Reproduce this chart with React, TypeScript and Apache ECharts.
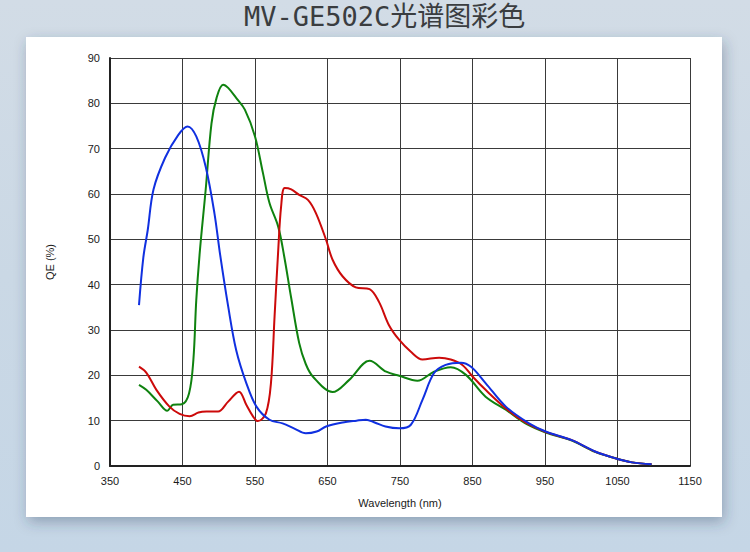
import React, { useEffect, useRef } from "react";
import * as echarts from "echarts";

const titleText = "MV-GE502C光谱图彩色";
const xAxisName = "Wavelength (nm)";
const yAxisName = "QE (%)";

const blueNm = [390, 396, 402, 410, 426, 444, 457, 469, 482, 494, 502, 513, 524, 538, 552, 570, 588, 605, 620, 635, 648, 671, 690, 703, 715, 730, 749, 765, 781, 797, 813, 834, 848, 868, 896, 928, 951, 987, 1019, 1047, 1070, 1097];
const blueQE = [35.5, 46, 52, 61, 68, 73, 74.9, 72.7, 66, 55.8, 46.5, 35.2, 25.6, 18.3, 13.1, 10.2, 9.4, 8.2, 7.2, 7.6, 8.7, 9.6, 10, 10.2, 9.6, 8.7, 8.3, 9.1, 14.6, 20.5, 22.3, 22.8, 21.9, 18.3, 13.1, 9.4, 7.6, 5.7, 3.2, 1.7, 0.8, 0.4];

const greenNm = [390, 400, 416, 429, 437, 449, 459, 465, 469, 474, 482, 490, 497, 506, 513, 524, 536, 550, 561, 570, 582, 590, 600, 611, 620, 630, 657, 680, 708, 731, 749, 774, 797, 820, 841, 868, 896, 923, 951, 987, 1019, 1047, 1070, 1097];
const greenQE = [17.9, 16.8, 14.2, 12.2, 13.5, 13.6, 16, 23.4, 36.6, 47.5, 61, 75.6, 81.2, 84.1, 83.4, 81.2, 78.6, 72.7, 64.6, 58, 52.8, 46.5, 37, 27.1, 22.5, 19.7, 16.3, 19, 23.2, 20.8, 19.9, 18.8, 20.8, 21.8, 20.1, 15.3, 12.4, 9.4, 7.4, 5.6, 3.1, 1.7, 0.8, 0.4];

const redNm = [390, 400, 414, 432, 446, 460, 472, 483, 499, 513, 528, 538, 547, 554, 565, 572, 577, 582, 586, 591, 600, 611, 623, 634, 648, 657, 671, 689, 708, 721, 735, 749, 765, 781, 804, 820, 836, 852, 868, 896, 923, 951, 987, 1019, 1047, 1070, 1097];
const redQE = [21.9, 20.6, 16.8, 13.1, 11.5, 11, 11.8, 12, 12, 14.2, 16.4, 13.5, 11, 9.9, 11.6, 18.3, 33, 47.5, 57.2, 61.3, 61, 59.8, 58.7, 55.8, 49.9, 45.5, 41.8, 39.4, 39, 36.2, 31, 27.8, 25.2, 23.5, 23.9, 23.5, 22.3, 19.4, 16.8, 12.7, 9.6, 7.5, 5.7, 3.2, 1.7, 0.8, 0.4];

const pairs = (xs: number[], ys: number[]) => xs.map((x, i) => [x, ys[i]]);

export default function App() {
  const ref = useRef<HTMLDivElement>(null);
  useEffect(() => {
    if (!ref.current) return;
    const chart = echarts.init(ref.current, null, { renderer: "svg" });
    const axisFont = { fontFamily: "Liberation Sans", fontSize: 11, color: "#1a1a1a" };
    const lineSeries = (xs: number[], ys: number[], color: string) => ({
      type: "line",
      data: pairs(xs, ys),
      smooth: 0.35,
      showSymbol: false,
      lineStyle: { color, width: 2 },
    });
    chart.setOption({
      animation: false,
      backgroundColor: new echarts.graphic.LinearGradient(0, 0, 0, 1, [
        { offset: 0, color: "#d2dce6" },
        { offset: 0.5, color: "#cad8e5" },
        { offset: 1, color: "#c5d6e6" },
      ]),
      title: {
        text: titleText,
        left: 244,
        top: 3,
        padding: 0,
        textStyle: {
          fontFamily: "DejaVu Sans Mono, Noto Sans CJK SC",
          fontSize: 27,
          lineHeight: 27,
          fontWeight: "normal",
          color: "#3a3d40",
        },
      },
      graphic: [
        {
          type: "rect",
          z: -10,
          shape: { x: 26, y: 37, width: 696, height: 480 },
          style: {
            fill: "#ffffff",
            shadowBlur: 14,
            shadowColor: "rgba(40,60,90,0.35)",
            shadowOffsetX: 2,
            shadowOffsetY: 5,
          },
        },
      ],
      grid: { left: 110, right: 60, top: 58, bottom: 86 },
      xAxis: {
        type: "value",
        min: 350,
        max: 1150,
        interval: 100,
        name: xAxisName,
        nameLocation: "middle",
        nameGap: 31,
        nameTextStyle: { ...axisFont },
        axisLine: { lineStyle: { color: "#222", width: 2 } },
        axisTick: { show: false },
        axisLabel: { ...axisFont, margin: 9, formatter: (v: number) => String(v) },
        splitLine: { show: true, lineStyle: { color: "#3a3a3a", width: 1 } },
      },
      yAxis: {
        type: "value",
        min: 0,
        max: 90,
        interval: 10,
        name: yAxisName,
        nameLocation: "middle",
        nameRotate: 90,
        nameGap: 55,
        nameTextStyle: { ...axisFont },
        axisLine: { show: true, lineStyle: { color: "#222", width: 2 } },
        axisTick: { show: false },
        axisLabel: { ...axisFont, margin: 10 },
        splitLine: { show: true, lineStyle: { color: "#3a3a3a", width: 1 } },
      },
      series: [
        lineSeries(greenNm, greenQE, "#0f820f"),
        lineSeries(redNm, redQE, "#cc0a0a"),
        lineSeries(blueNm, blueQE, "#1030e0"),
      ],
    });
    return () => chart.dispose();
  }, []);
  return (
    <div
      ref={ref}
      style={{ position: "fixed", left: 0, top: 0, width: 750, height: 552 }}
    />
  );
}
